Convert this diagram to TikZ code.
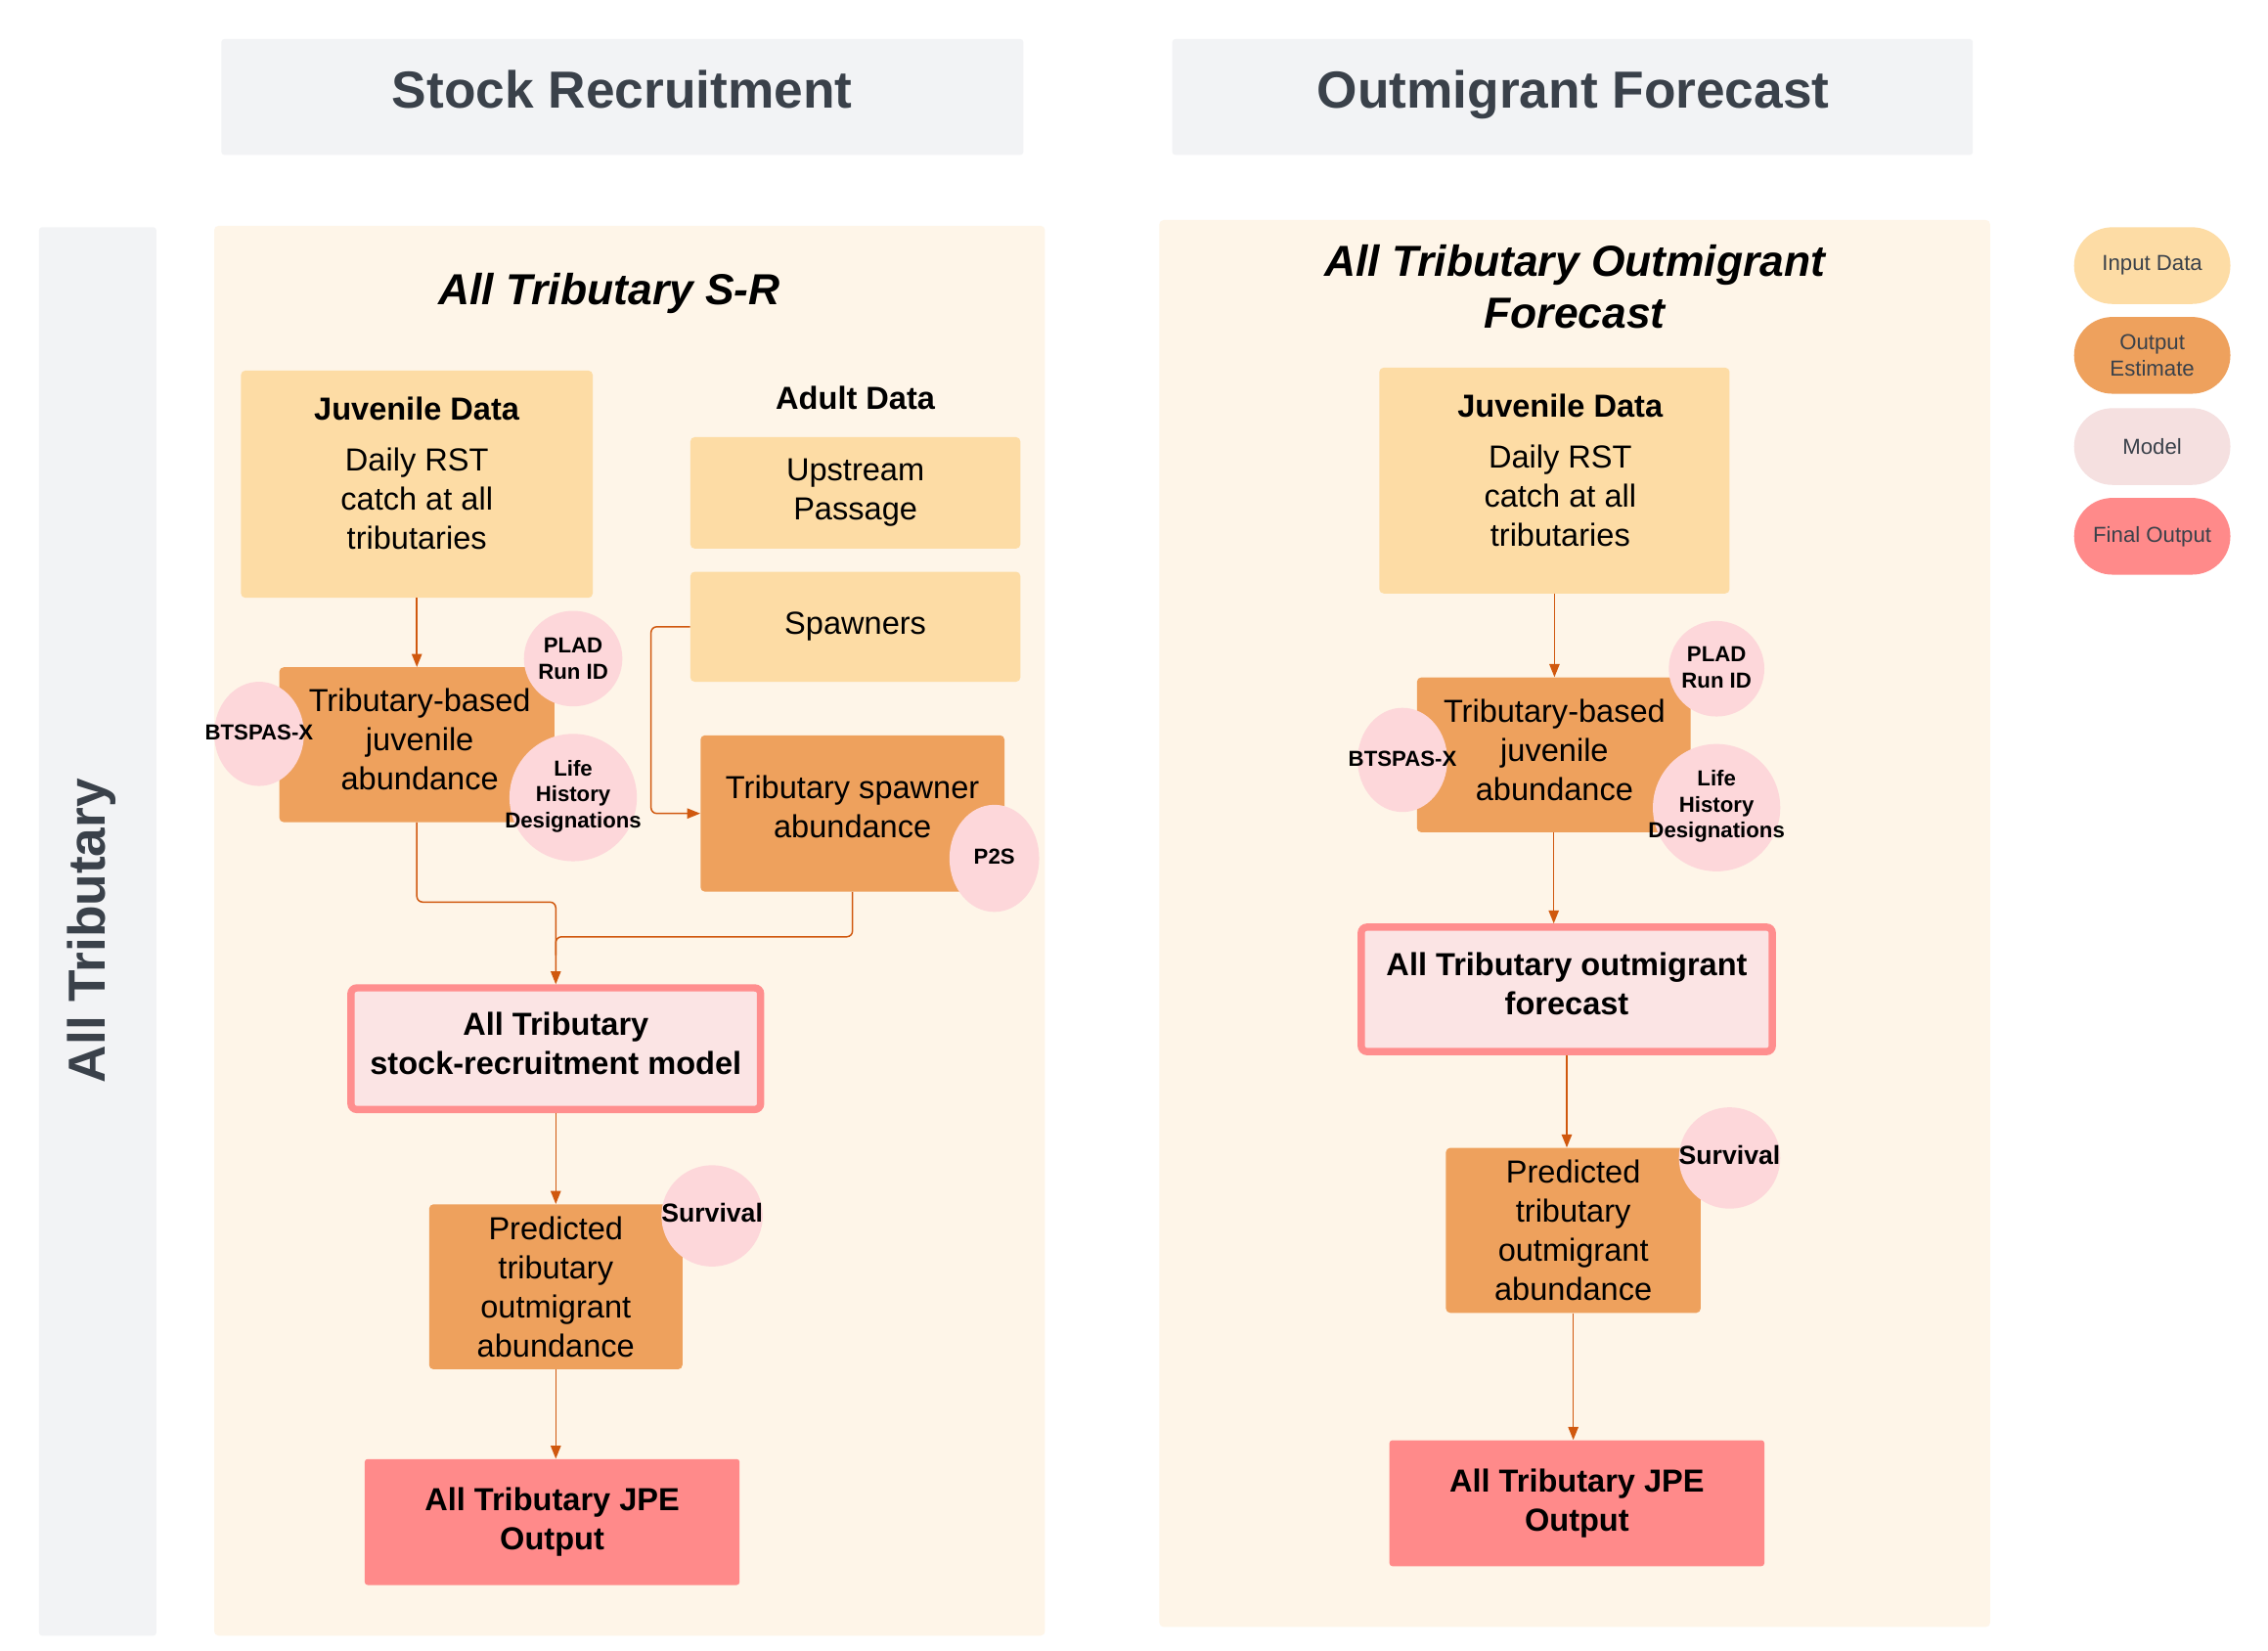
\documentclass[tikz,border=0pt]{standalone}
\usepackage{fontspec}
\setmainfont{Liberation Sans}
\usetikzlibrary{arrows.meta,shapes.geometric,calc}
\definecolor{hdrfill}{HTML}{F2F3F5}
\definecolor{hdrtext}{HTML}{3A414A}
\definecolor{cream}{HTML}{FEF5E8}
\definecolor{inputc}{HTML}{FDDCA5}
\definecolor{outc}{HTML}{EEA15D}
\definecolor{modelfill}{HTML}{FBE4E4}
\definecolor{modelline}{HTML}{FF8E8E}
\definecolor{finalc}{HTML}{FF8A8A}
\definecolor{pinkc}{HTML}{FDD7DA}
\definecolor{legmodel}{HTML}{F5E0E0}
\definecolor{conn}{HTML}{D0580E}
\tikzset{
  hdr/.style={fill=hdrfill, rounded corners=2pt, inner sep=0pt},
  hdrtxt/.style={text=hdrtext, font=\fontsize{36}{42}\selectfont\bfseries, inner sep=0pt, anchor=base},
  panel/.style={fill=cream, rounded corners=3pt, inner sep=0pt},
  body/.style={font=\fontsize{22}{27}\selectfont, align=center, text=black},
  inbox/.style={body, fill=inputc, rounded corners=3pt, inner sep=0pt},
  outbox/.style={body, fill=outc, rounded corners=3pt, inner sep=0pt},
  modbox/.style={body, font=\fontsize{22}{27}\selectfont\bfseries, fill=modelfill, draw=modelline, line width=5pt, rounded corners=4pt, inner sep=0pt},
  finbox/.style={body, font=\fontsize{22}{27}\selectfont\bfseries, fill=finalc, rounded corners=2pt, inner sep=0pt},
  bubble/.style={ellipse, fill=pinkc, inner sep=0pt},
  bubtext/.style={font=\fontsize{15}{18}\selectfont\bfseries, align=center, text=black, inner sep=0pt},
  survtext/.style={font=\fontsize{18}{21}\selectfont\bfseries, text=black, inner sep=0pt},
  ptitle/.style={font=\fontsize{30}{36}\selectfont\bfseries\itshape, align=center, text=black},
  pill/.style={minimum width=108pt, minimum height=53pt, rounded corners=26.5pt, inner sep=0pt, text=hdrtext, align=center, font=\fontsize{15}{18}\selectfont},
  link/.style={draw=conn, line width=1pt, rounded corners=4pt},
  arr/.style={link, -{Triangle[length=9pt,width=7pt]}}
}
\begin{document}
\begin{tikzpicture}[x=1pt,y=-1pt]
\useasboundingbox (0,0) rectangle (1567,1140);
\fill[white] (0,0) rectangle (1567,1140);
% headers
\node[hdr, minimum width=554pt, minimum height=80pt] (h1) at (430,67) {};
\node[hdrtxt] (h1t) at (430,75) {Stock Recruitment};
\node[hdr, minimum width=553pt, minimum height=80pt] (h2) at (1086.5,67) {};
\node[hdrtxt] (h2t) at (1087,75) {Outmigrant Forecast};
% lane
\node[fill=hdrfill, rounded corners=2pt, minimum width=81pt, minimum height=973pt, inner sep=0pt] (lane) at (67.5,643.5) {};
\node[rotate=90, text=hdrtext, font=\fontsize{36}{42}\selectfont\bfseries] (lanet) at (63,643) {All Tributary};
% panels
\node[panel, minimum width=574pt, minimum height=974pt] (p1) at (435,643) {};
\node[panel, minimum width=574pt, minimum height=972pt] (p2) at (1088,638) {};
% titles
\node[ptitle] (t1) at (421,203) {All Tributary S-R};
\node[ptitle] (t2) at (1088,198) {All Tributary Outmigrant\\Forecast};

% ---------- left panel ----------
\node[inbox, minimum width=243pt, minimum height=157pt] (jd1) at (288,334.5) {};
\node[body] (jd1t) at (288,327) {\textbf{Juvenile Data}\\[8pt]Daily RST\\catch at all\\tributaries};
\node[body, font=\fontsize{22}{27}\selectfont\bfseries] (adult) at (591,275) {Adult Data};
\node[inbox, minimum width=228pt, minimum height=77pt] (up) at (591,340.5) {Upstream\\Passage};
\node[inbox, minimum width=228pt, minimum height=76pt] (spawn) at (591,433) {Spawners};
\node[outbox, minimum width=190pt, minimum height=107pt] (tba) at (288,514.5) {};
\node[body] (tbat) at (290,511) {Tributary-based\\juvenile\\abundance};
\node[outbox, minimum width=210pt, minimum height=108pt] (tsa) at (589,562) {};
\node[body] (tsat) at (589,557.5) {Tributary spawner\\abundance};
\node[modbox, minimum width=283pt, minimum height=84pt] (model) at (384,724.5) {};
\node[body, font=\fontsize{22}{27}\selectfont\bfseries] (modelt) at (384,721) {All Tributary\\stock-recruitment model};
\node[outbox, minimum width=175pt, minimum height=114pt] (pred) at (384,889) {Predicted\\tributary\\outmigrant\\abundance};
\node[finbox, minimum width=259pt, minimum height=87pt] (jpe) at (381.5,1051.5) {All Tributary JPE\\Output};

% bubbles left
\node[bubble, minimum width=68pt, minimum height=66pt] (plad) at (396,455) {};
\node[bubtext] (pladt) at (396,455) {PLAD\\Run ID};
\node[bubble, minimum width=62pt, minimum height=72pt] (bts) at (179,507) {};
\node[bubtext] (btst) at (179,506) {BTSPAS-X};
\node[bubble, minimum width=88pt, minimum height=88pt] (lhd) at (396,551) {};
\node[bubtext] (lhdt) at (396,550) {Life\\History\\Designations};
\node[bubble, minimum width=62pt, minimum height=74pt] (p2s) at (687,593) {};
\node[bubtext] (p2st) at (687,592) {P2S};
\node[bubble, minimum width=70pt, minimum height=70pt] (surv) at (492,840) {};
\node[survtext] (survt) at (492,838) {Survival};

% connectors left
\draw[arr] (jd1.south) -- (tba.north);
\draw[arr] (spawn.west) -- ++(-27,0) |- (tsa.west);
\draw[arr] (tba.south) -- ++(0,55) -| (model.north);
\draw[link] (tsa.south) -- ++(0,31) -| ($(model.north)+(0,-20)$);
\draw[arr] (model.south) -- (pred.north);
\draw[arr] (pred.south) -- (pred.south |- jpe.north);

% ---------- right panel ----------
\node[inbox, minimum width=242pt, minimum height=156pt] (jd2) at (1074,332) {};
\node[body] (jd2t) at (1078,325) {\textbf{Juvenile Data}\\[8pt]Daily RST\\catch at all\\tributaries};
\node[outbox, minimum width=189pt, minimum height=107pt] (tba2) at (1073.5,521.5) {};
\node[body] (tba2t) at (1074,518) {Tributary-based\\juvenile\\abundance};
\node[modbox, minimum width=284pt, minimum height=86pt] (fc) at (1082.5,683.5) {};
\node[body, font=\fontsize{22}{27}\selectfont\bfseries] (fct) at (1082.5,680) {All Tributary outmigrant\\forecast};
\node[outbox, minimum width=176pt, minimum height=114pt] (pred2) at (1087,850) {Predicted\\tributary\\outmigrant\\abundance};
\node[finbox, minimum width=259pt, minimum height=87pt] (jpe2) at (1089.5,1038.5) {All Tributary JPE\\Output};

\node[bubble, minimum width=66pt, minimum height=66pt] (plad2) at (1186,462) {};
\node[bubtext] (plad2t) at (1186,461) {PLAD\\Run ID};
\node[bubble, minimum width=62pt, minimum height=72pt] (bts2) at (969,525) {};
\node[bubtext] (bts2t) at (969,524) {BTSPAS-X};
\node[bubble, minimum width=88pt, minimum height=88pt] (lhd2) at (1186,558) {};
\node[bubtext] (lhd2t) at (1186,557) {Life\\History\\Designations};
\node[bubble, minimum width=70pt, minimum height=70pt] (surv2) at (1195,800) {};
\node[survtext] (surv2t) at (1195,798) {Survival};

\draw[arr] (jd2.south) -- (jd2.south |- tba2.north);
\draw[arr] (tba2.south) -- (tba2.south |- fc.north);
\draw[arr] (fc.south) -- (fc.south |- pred2.north);
\draw[arr] (pred2.south) -- (pred2.south |- jpe2.north);

% legend
\node[pill, fill=inputc] (lg1) at (1487,183.5) {Input Data};
\node[pill, fill=outc] (lg2) at (1487,245.5) {Output\\Estimate};
\node[pill, fill=legmodel] (lg3) at (1487,308.5) {Model};
\node[pill, fill=finalc] (lg4) at (1487,370.5) {Final Output};
\end{tikzpicture}
\end{document}
